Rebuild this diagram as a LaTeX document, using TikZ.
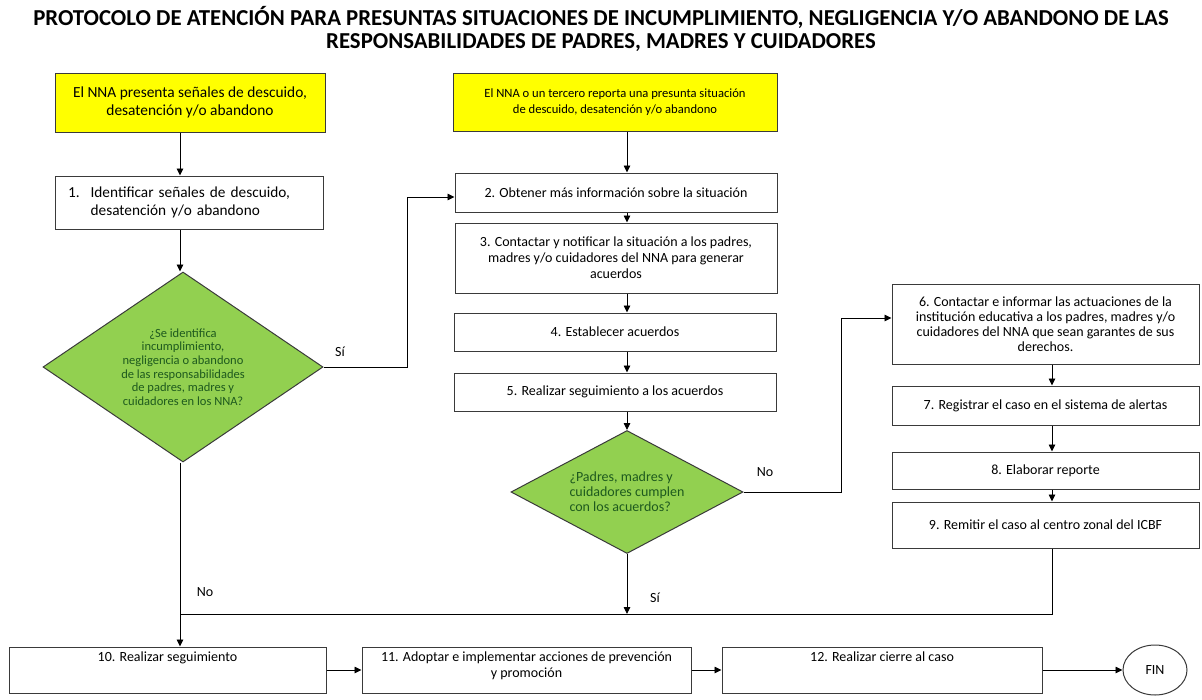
\documentclass[tikz,border=0pt]{standalone}
\usepackage{fontspec}
\setmainfont{Carlito}
\usetikzlibrary{shapes.geometric,arrows.meta}
\definecolor{ylw}{HTML}{FFFF00}
\definecolor{grn}{HTML}{92D050}
\definecolor{dgrn}{HTML}{1E5A1E}
\definecolor{edge}{HTML}{3A3A3A}
\begin{document}
\begin{tikzpicture}[x=1pt,y=-1pt,
  box/.style={draw=edge, line width=1pt, fill=white, inner sep=2pt, align=center,
    font=\fontsize{14}{16}\selectfont},
  ybox/.style={box, fill=ylw},
  dia/.style={diamond, draw=edge, line width=1pt, fill=grn, inner sep=0pt,
    text=dgrn},
  lbl/.style={font=\fontsize{14}{16}\selectfont, inner sep=0pt},
  arr/.style={line width=0.9pt, draw=black, -{Triangle[length=7pt,width=6.5pt]}},
  ln/.style={line width=0.9pt, draw=black}]
\path[use as bounding box] (0,0) rectangle (1202,699);

% title
\node[font=\bfseries\fontsize{22.8}{23.5}\selectfont, align=center] (title) at (601,29)
  {PROTOCOLO DE ATENCIÓN PARA PRESUNTAS SITUACIONES DE INCUMPLIMIENTO, NEGLIGENCIA Y/O ABANDONO DE LAS\\
   RESPONSABILIDADES DE PADRES, MADRES Y CUIDADORES};

% left column
\node[ybox, minimum width=270pt, minimum height=59pt, font=\fontsize{15.4}{18}\selectfont] (y1) at (190,102.5)
  {El NNA presenta señales de descuido,\\desatención y/o abandono};
\node[box, minimum width=268pt, minimum height=53pt, inner xsep=0pt, text width=242pt, align=left,
  font=\fontsize{15.3}{18}\selectfont] (b1) at (189,202.5)
  {\begin{tabular}{@{}l@{\hspace{11pt}}l@{}}1. & Identificar señales de descuido,\\ & desatención y/o abandono\end{tabular}};
\node[dia, minimum width=280pt, minimum height=190pt, aspect=1.47, align=center,
  font=\fontsize{12.5}{13.6}\selectfont] (d1) at (183,367)
  {¿Se identifica\\incumplimiento,\\negligencia o abandono\\de las responsabilidades\\de padres, madres y\\cuidadores en los NNA?};

% middle column
\node[ybox, minimum width=324pt, minimum height=58pt, font=\fontsize{12.6}{16}\selectfont] (y2) at (615,102)
  {El NNA o un tercero reporta una presunta situación\\de descuido, desatención y/o abandono};
\node[box, minimum width=322pt, minimum height=39pt] (b2) at (616,192.5)
  {2. Obtener más información sobre la situación};
\node[box, minimum width=322pt, minimum height=70pt] (b3) at (616,258)
  {3. Contactar y notificar la situación a los padres,\\madres y/o cuidadores del NNA para generar\\acuerdos};
\node[box, minimum width=322pt, minimum height=38pt] (b4) at (615,332)
  {4. Establecer acuerdos};
\node[box, minimum width=322pt, minimum height=38pt] (b5) at (615,392)
  {5. Realizar seguimiento a los acuerdos};
\node[dia, minimum width=232pt, minimum height=123pt, aspect=1.9, align=left,
  font=\fontsize{14}{15}\selectfont] (d2) at (627,492)
  {¿Padres, madres y\\cuidadores cumplen\\con los acuerdos?};

% right column
\node[box, minimum width=307pt, minimum height=80pt, font=\fontsize{14}{15}\selectfont] (b6) at (1045.5,324)
  {6. Contactar e informar las actuaciones de la\\institución educativa a los padres, madres y/o\\cuidadores del NNA que sean garantes de sus\\derechos.};
\node[box, minimum width=307pt, minimum height=39pt] (b7) at (1045.5,405.5)
  {7. Registrar el caso en el sistema de alertas};
\node[box, minimum width=307pt, minimum height=37pt] (b8) at (1045.5,470.5)
  {8. Elaborar reporte};
\node[box, minimum width=307pt, minimum height=46pt] (b9) at (1045.5,525)
  {9. Remitir el caso al centro zonal del ICBF};

% bottom row
\node[box, minimum width=317pt, minimum height=46pt] (b10) at (167.5,670)
  {\parbox[c][36pt][t]{300pt}{\centering 10. Realizar seguimiento}};
\node[box, minimum width=329pt, minimum height=46pt] (b11) at (526.5,670)
  {\parbox[c][36pt][t]{325pt}{\centering 11. Adoptar e implementar acciones de prevención\\y promoción}};
\node[box, minimum width=320pt, minimum height=46pt] (b12) at (882,670)
  {\parbox[c][36pt][t]{300pt}{\centering 12. Realizar cierre al caso}};
\node[ellipse, draw=edge, line width=1pt, minimum width=64pt, minimum height=50pt,
  font=\fontsize{14}{16}\selectfont] (fin) at (1155,670) {FIN};

% helper coordinates
\coordinate (c1) at (407,197);
\coordinate (c2) at (841,318);
\coordinate (j1) at (180,614);
\coordinate (j2) at (627,614);
\coordinate (j3) at (1052,614);

% connectors
\draw[arr] (y1.south -| j1) -- (b1.north -| j1);
\draw[arr] (b1.south -| j1) -- (d1.north -| j1);
\draw[arr] (d1.east) -- (d1.east -| c1) -- (c1) -- (c1 -| b2.west);
\draw[arr] (d1.south -| j1) -- (b10.north -| j1);

\draw[arr] (y2.south -| j2) -- (b2.north -| j2);
\draw[arr] (b2.south -| j2) -- (b3.north -| j2);
\draw[arr] (b3.south -| j2) -- (b4.north -| j2);
\draw[arr] (b4.south -| j2) -- (b5.north -| j2);
\draw[arr] (b5.south -| j2) -- (d2.north);
\draw[arr] (d2.east) -- (d2.east -| c2) -- (c2) -- (c2 -| b6.west);
\draw[arr] (d2.south) -- (j2);

\draw[arr] (b6.south -| j3) -- (b7.north -| j3);
\draw[arr] (b7.south -| j3) -- (b8.north -| j3);
\draw[arr] (b8.south -| j3) -- (b9.north -| j3);
\draw[ln] (b9.south -| j3) -- (j3) -- (j1);

\draw[arr] (b10.east) -- (b11.west);
\draw[arr] (b11.east) -- (b12.west);
\draw[arr] (b12.east) -- (fin.west);

% labels
\node[lbl] (si1) at (340,352) {Sí};
\node[lbl] (no1) at (205,592) {No};
\node[lbl] (no2) at (765,472) {No};
\node[lbl] (si2) at (655,598) {Sí};
\end{tikzpicture}
\end{document}
